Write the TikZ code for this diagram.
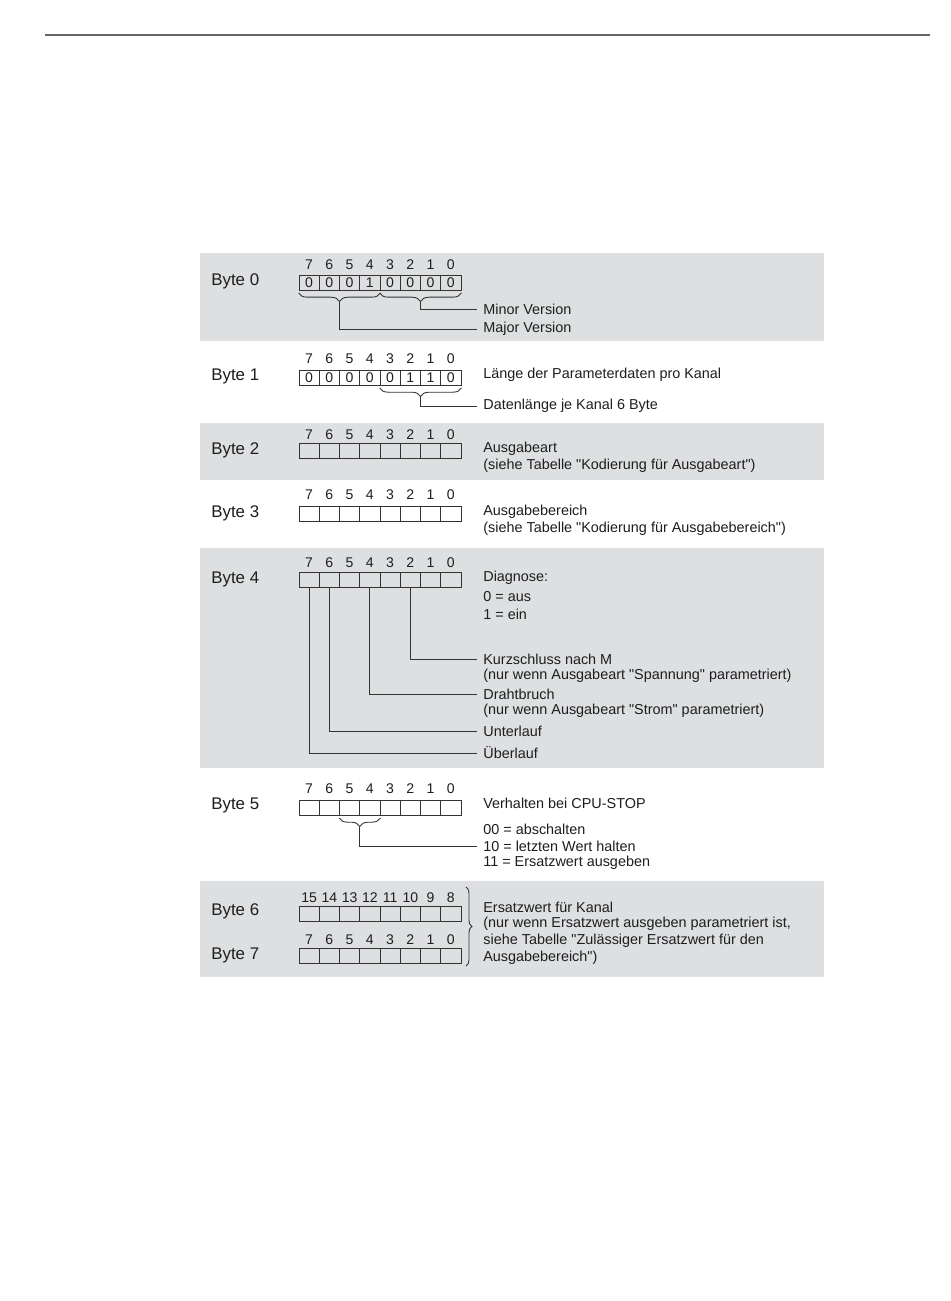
\documentclass[tikz,border=0pt]{standalone}
\usepackage{fontspec}
\setmainfont{Liberation Sans}[Ligatures=TeXOff]
\usetikzlibrary{calc,decorations.pathreplacing}
\definecolor{bandgray}{HTML}{DDDFE1}
\definecolor{linegray}{HTML}{333333}
\definecolor{textgray}{HTML}{1E1E1E}
\begin{document}
\begin{tikzpicture}[x=0.02cm, y=-0.02cm,
    band/.style={fill=bandgray, draw=none},
    cell/.style={draw=linegray, line width=0.5pt, minimum width=0.405cm, minimum height=0.3cm,
      inner sep=0pt, font=\fontsize{8}{9}\selectfont, text=textgray},
    bitnum/.style={inner sep=0pt, font=\fontsize{8}{9}\selectfont, text=textgray},
    bytelbl/.style={anchor=west, inner sep=0pt, font=\fontsize{9.6}{11}\selectfont, text=textgray},
    lbl/.style={anchor=west, inner xsep=0.12cm, inner ysep=0pt, font=\fontsize{8.2}{10}\selectfont, text=textgray},
    conn/.style={draw=linegray, line width=0.5pt},
    brc/.style={draw=linegray, line width=0.5pt, decorate, decoration={brace, mirror, amplitude=0.17cm, raise=0.04cm}},
    bigbrc/.style={draw=linegray, line width=0.5pt, decorate, decoration={brace, amplitude=0.12cm}}]
  \useasboundingbox[fill=white] (0,0) rectangle (950,1301);

  % Kopflinie
  \draw[line width=1.2pt, gray!80!black] (45,35) -- (930,35);

  % Hinterlegte Bereiche
  \fill[band] (200,253) rectangle (824,341);
  \fill[band] (200,423) rectangle (824,480);
  \fill[band] (200,548) rectangle (824,768);
  \fill[band] (200,881) rectangle (824,977);

  % Byte 0
  \node[bytelbl] (byte0) at (211,281) {Byte 0};
  \foreach \v [count=\i from 0, evaluate=\i as \bit using int(7-\i)] in {0,0,0,1,0,0,0,0} {
    \node[bitnum] (n0-\i) at ({309.125+20.25*\i},265) {\bit};
    \node[cell] (b0-\i) at ({309.125+20.25*\i},283) {\v};
  }
  \draw[brc] (b0-0.south west) -- (b0-3.south east);
  \draw[brc] (b0-4.south west) -- (b0-7.south east);
  \coordinate (majtip) at ($(b0-0.south west)!.5!(b0-3.south east)+(0,11)$);
  \coordinate (mintip) at ($(b0-4.south west)!.5!(b0-7.south east)+(0,11)$);
  \node[lbl] (minor) at (477,309) {Minor Version};
  \node[lbl] (major) at (477,329) {Major Version};
  \draw[conn] (mintip) |- (minor.west);
  \draw[conn] (majtip) |- (major.west);

  % Byte 1
  \node[bytelbl] (byte1) at (211,376) {Byte 1};
  \foreach \v [count=\i from 0, evaluate=\i as \bit using int(7-\i)] in {0,0,0,0,0,1,1,0} {
    \node[bitnum] (n1-\i) at ({309.125+20.25*\i},359) {\bit};
    \node[cell] (b1-\i) at ({309.125+20.25*\i},378) {\v};
  }
  \draw[brc] (b1-4.south west) -- (b1-7.south east);
  \coordinate (lentip) at ($(b1-4.south west)!.5!(b1-7.south east)+(0,11)$);
  \node[lbl] (laenge) at (477,375) {Länge der Parameterdaten pro Kanal};
  \node[lbl] (datlen) at (477,406) {Datenlänge je Kanal 6 Byte};
  \draw[conn] (lentip) |- (datlen.west);

  % Byte 2
  \node[bytelbl] (byte2) at (211,450) {Byte 2};
  \foreach \i [evaluate=\i as \bit using int(7-\i)] in {0,...,7} {
    \node[bitnum] (n2-\i) at ({309.125+20.25*\i},435) {\bit};
    \node[cell] (b2-\i) at ({309.125+20.25*\i},451) {};
  }
  \node[lbl] (art) at (477,449) {Ausgabeart};
  \node[lbl] (art2) at (477,466) {(siehe Tabelle "Kodierung für Ausgabeart")};

  % Byte 3
  \node[bytelbl] (byte3) at (211,513) {Byte 3};
  \foreach \i [evaluate=\i as \bit using int(7-\i)] in {0,...,7} {
    \node[bitnum] (n3-\i) at ({309.125+20.25*\i},495) {\bit};
    \node[cell] (b3-\i) at ({309.125+20.25*\i},514) {};
  }
  \node[lbl] (ber) at (477,512) {Ausgabebereich};
  \node[lbl] (ber2) at (477,529) {(siehe Tabelle "Kodierung für Ausgabebereich")};

  % Byte 4
  \node[bytelbl] (byte4) at (211,579) {Byte 4};
  \foreach \i [evaluate=\i as \bit using int(7-\i)] in {0,...,7} {
    \node[bitnum] (n4-\i) at ({309.125+20.25*\i},563) {\bit};
    \node[cell] (b4-\i) at ({309.125+20.25*\i},580) {};
  }
  \node[lbl] (diag) at (477,578) {Diagnose:};
  \node[lbl] (diag0) at (477,597) {0 = aus};
  \node[lbl] (diag1) at (477,614) {1 = ein};
  \node[lbl] (kurz) at (477,659) {Kurzschluss nach M};
  \node[lbl] (kurz2) at (477,676) {(nur wenn Ausgabeart "Spannung" parametriert)};
  \node[lbl] (draht) at (477,694) {Drahtbruch};
  \node[lbl] (draht2) at (477,711) {(nur wenn Ausgabeart "Strom" parametriert)};
  \node[lbl] (unter) at (477,731) {Unterlauf};
  \node[lbl] (ueber) at (477,753) {Überlauf};
  \draw[conn] (b4-5.south) |- (kurz.west);
  \draw[conn] (b4-3.south) |- (draht.west);
  \draw[conn] (b4-1.south) |- (unter.west);
  \draw[conn] (b4-0.south) |- (ueber.west);

  % Byte 5
  \node[bytelbl] (byte5) at (211,805) {Byte 5};
  \foreach \i [evaluate=\i as \bit using int(7-\i)] in {0,...,7} {
    \node[bitnum] (n5-\i) at ({309.125+20.25*\i},789) {\bit};
    \node[cell] (b5-\i) at ({309.125+20.25*\i},808) {};
  }
  \draw[brc] (b5-2.south west) -- (b5-3.south east);
  \coordinate (stoptip) at ($(b5-2.south west)!.5!(b5-3.south east)+(0,11)$);
  \node[lbl] (stop) at (477,803) {Verhalten bei CPU-STOP};
  \node[lbl] (stop0) at (477,829) {00 = abschalten};
  \node[lbl] (stop1) at (477,846) {10 = letzten Wert halten};
  \node[lbl] (stop2) at (477,863) {11 = Ersatzwert ausgeben};
  \draw[conn] (stoptip) |- (stop1.west);

  % Byte 6 und 7
  \node[bytelbl] (byte6) at (211,911) {Byte 6};
  \node[bytelbl] (byte7) at (211,955) {Byte 7};
  \foreach \i [evaluate=\i as \bit using int(15-\i), evaluate=\i as \lo using int(7-\i)] in {0,...,7} {
    \node[bitnum] (n6-\i) at ({309.125+20.25*\i},898) {\bit};
    \node[cell] (b6-\i) at ({309.125+20.25*\i},914) {};
    \node[bitnum] (n7-\i) at ({309.125+20.25*\i},940) {\lo};
    \node[cell] (b7-\i) at ({309.125+20.25*\i},956) {};
  }
  \draw[bigbrc] (466,887) -- (466,966);
  \node[lbl] (ers) at (477,907) {Ersatzwert für Kanal};
  \node[lbl] (ers2) at (477,924) {(nur wenn Ersatzwert ausgeben parametriert ist,};
  \node[lbl] (ers3) at (477,941) {siehe Tabelle "Zulässiger Ersatzwert für den};
  \node[lbl] (ers4) at (477,958) {Ausgabebereich")};
\end{tikzpicture}
\end{document}
